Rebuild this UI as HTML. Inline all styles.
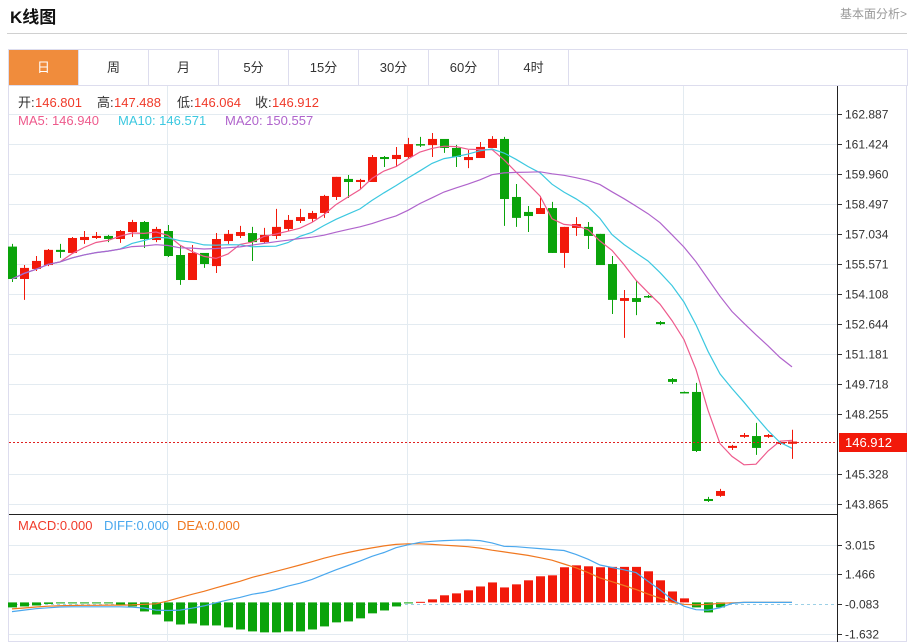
<!DOCTYPE html>
<html><head><meta charset="utf-8">
<style>
html,body{margin:0;padding:0;background:#fff;}
body{width:912px;height:642px;overflow:hidden;position:relative;font-family:"Liberation Sans","Noto Sans CJK SC",sans-serif;}
.title{position:absolute;left:10px;top:3px;font-size:17px;font-weight:bold;color:#111;}
.more{position:absolute;left:840px;top:5px;font-size:12px;color:#999;}
.hline{position:absolute;left:7px;top:33px;width:900px;height:1px;background:#d0d0d0;}
.tabs{position:absolute;left:8px;top:49px;width:898px;height:35px;border:1px solid #dde;border-bottom:1px solid #dde;}
.tab{position:absolute;top:0;width:69px;height:35px;line-height:35px;text-align:center;font-size:13px;color:#333;border-right:1px solid #dde;}
.tab.on{background:#f08c3c;color:#fff;}
svg{position:absolute;left:0;top:0;}
</style></head><body>
<div class="title">K线图</div>
<div class="more">基本面分析&gt;</div>
<div class="hline"></div>
<div class="tabs">
<div class="tab on" style="left:0">日</div>
<div class="tab" style="left:70px">周</div>
<div class="tab" style="left:140px">月</div>
<div class="tab" style="left:210px">5分</div>
<div class="tab" style="left:280px">15分</div>
<div class="tab" style="left:350px">30分</div>
<div class="tab" style="left:420px">60分</div>
<div class="tab" style="left:490px">4时</div>
</div>
<svg id="chart" width="912" height="642"></svg>
<script>
const opens=[156.42,154.84,155.33,155.52,156.26,156.11,156.74,156.84,156.94,156.79,157.13,157.62,156.74,157.18,156.01,154.79,156.11,155.47,156.69,156.94,157.08,156.64,156.94,157.28,157.67,157.77,158.06,158.84,159.72,159.57,159.57,160.79,160.69,160.79,161.42,161.37,161.67,161.23,160.64,160.74,161.23,161.67,158.84,158.11,158.01,158.30,156.11,157.33,157.38,157.04,155.57,153.77,153.91,154.01,152.74,149.96,149.33,149.33,144.11,144.26,146.60,147.14,147.18,147.14,146.79,146.801];
const closes=[154.84,155.38,155.72,156.26,156.16,156.84,156.89,156.94,156.79,157.18,157.62,156.79,157.28,155.96,154.79,156.11,155.57,156.79,157.04,157.13,156.64,156.99,157.38,157.72,157.86,158.06,158.89,159.82,159.57,159.67,160.79,160.69,160.89,161.42,161.37,161.67,161.23,160.79,160.79,161.28,161.67,158.74,157.82,157.91,158.30,156.11,157.38,157.52,156.94,155.52,153.82,153.91,153.72,153.96,152.64,149.82,149.28,146.45,144.01,144.50,146.70,147.23,146.60,147.23,146.89,146.912];
const highs=[156.55,155.52,155.96,156.30,156.55,156.89,157.18,157.13,156.99,157.23,157.72,157.67,157.38,157.47,156.50,156.50,156.11,157.08,157.23,157.43,157.38,157.33,158.26,157.96,158.26,158.16,158.94,159.82,159.91,159.72,160.89,160.84,161.28,161.72,161.77,161.96,161.67,161.38,161.13,161.52,161.81,161.77,159.47,158.40,158.89,158.60,157.38,157.86,157.62,157.04,155.96,154.30,154.74,154.06,152.79,150.01,149.35,149.77,144.21,144.60,146.75,147.33,147.82,147.28,146.94,147.488];
const lows=[154.69,153.82,155.23,155.47,155.87,156.06,156.55,156.79,156.64,156.60,156.89,156.35,156.64,155.91,154.55,154.79,155.38,155.13,156.55,156.84,155.72,156.60,156.79,157.18,157.57,157.62,157.82,158.69,158.79,159.23,159.57,160.30,160.30,160.74,161.28,160.79,160.99,160.30,160.25,160.74,161.23,157.43,157.38,157.13,158.01,156.11,155.38,156.94,156.30,155.52,153.13,151.97,153.08,153.91,152.59,149.72,149.26,146.40,143.96,144.21,146.50,147.09,146.26,147.09,146.74,146.064];
const macdHist=[-0.26,-0.21,-0.16,-0.08,-0.05,-0.05,-0.04,-0.04,-0.03,-0.16,-0.21,-0.47,-0.63,-0.99,-1.15,-1.10,-1.20,-1.20,-1.30,-1.41,-1.51,-1.56,-1.56,-1.51,-1.51,-1.41,-1.25,-1.04,-0.99,-0.83,-0.57,-0.42,-0.21,-0.02,0.03,0.16,0.37,0.47,0.63,0.83,1.04,0.78,0.94,1.15,1.36,1.41,1.83,1.93,1.88,1.83,1.85,1.85,1.85,1.62,1.15,0.57,0.21,-0.26,-0.52,-0.26,0,0,0,0,0,0];
const difVals=[-0.48,-0.40,-0.33,-0.28,-0.24,-0.23,-0.23,-0.23,-0.23,-0.23,-0.25,-0.29,-0.40,-0.42,-0.40,-0.30,-0.18,-0.02,0.13,0.26,0.42,0.52,0.67,0.85,1.0,1.2,1.45,1.7,1.92,2.15,2.4,2.6,2.85,3.0,3.13,3.18,3.22,3.24,3.25,3.22,3.1,2.92,2.9,2.85,2.8,2.75,2.7,2.5,2.25,1.95,1.82,1.7,1.55,1.1,0.65,0.15,-0.2,-0.38,-0.4,-0.28,-0.05,0,0,0,0,0];
const deaVals=[-0.34,-0.29,-0.24,-0.20,-0.17,-0.16,-0.15,-0.15,-0.14,-0.14,-0.13,-0.10,-0.07,0.08,0.25,0.42,0.58,0.76,0.93,1.1,1.3,1.46,1.62,1.78,1.95,2.12,2.3,2.46,2.6,2.73,2.84,2.94,3.02,3.05,3.05,3.02,2.98,2.94,2.9,2.83,2.72,2.63,2.54,2.45,2.33,2.2,2.0,1.8,1.55,1.27,1.08,0.88,0.67,0.43,0.22,0.0,-0.1,-0.13,-0.1,-0.05,-0.02,0,0,0,0,0];
const priceTicks=["162.887","161.424","159.960","158.497","157.034","155.571","154.108","152.644","151.181","149.718","148.255","146.791","145.328","143.865"];
const macdTicks=["3.015","1.466","-0.083","-1.632"];
const lastPrice=146.912;

const NS="http://www.w3.org/2000/svg";
const svg=document.getElementById('chart');
function mk(tag,attrs,parent){const e=document.createElementNS(NS,tag);for(const k in attrs)e.setAttribute(k,attrs[k]);(parent||svg).appendChild(e);return e;}
const pMax=162.887,pMin=143.865,yTop=114,yBot=504;
function yP(p){return yTop+(pMax-p)*(yBot-yTop)/(pMax-pMin);}
function xI(i){return 12+12*i;}
function yM(v){return 604-(v+0.083)*(29.75/1.549);}

let e;
e=mk('rect',{x:8.5,y:85.5,width:898,height:556,fill:'none',stroke:'#dde'});


priceTicks.forEach((t,k)=>{
  if(k===11)return;
  const v=parseFloat(t);const y=Math.round(yP(v))+0.5;
  let g=mk('line',{x1:9,x2:837,y1:y,y2:y,stroke:'#e3ebf1'});
  
  
  let tk=mk('line',{x1:837,x2:842,y1:y,y2:y,stroke:'#333'});
  
  
  let tx=mk('text',{x:845,y:y+4,'font-size':12,fill:'#333'});tx.textContent=t;
  
  
});
[167,407,683].forEach(x=>{
  let g=mk('line',{x1:x+0.5,x2:x+0.5,y1:86,y2:642,stroke:'#e3ebf1'});
  
  
});
macdTicks.forEach(t=>{
  const y=Math.round(yM(parseFloat(t)))+0.5;
  const zero=t==="-0.083";
  let g=mk('line',{x1:9,x2:837,y1:y,y2:y,stroke:zero?'#9cd0e6':'#e3ebf1','stroke-dasharray':zero?'3,3':'none'});
  
  
  let tk=mk('line',{x1:837,x2:842,y1:y,y2:y,stroke:'#333'});
  
  
  let tx=mk('text',{x:845,y:y+4,'font-size':12,fill:'#333'});tx.textContent=t;
  
  
});
e=mk('line',{x1:837.5,x2:837.5,y1:86,y2:642,stroke:'#222'});


e=mk('line',{x1:9,x2:838,y1:514.5,y2:514.5,stroke:'#222'});



const RED='#f2190a',GREEN='#0aa30a';
opens.forEach((o,i)=>{
  const c=closes[i],x=xI(i),up=c>=o,col=up?RED:GREEN;
  let w=mk('line',{x1:x+0.5,x2:x+0.5,y1:yP(highs[i]),y2:yP(lows[i]),stroke:col});
  
  
  const t=yP(Math.max(o,c)),b=yP(Math.min(o,c));
  let r=mk('rect',{x:x-4,y:t,width:9,height:Math.max(1.5,b-t),fill:col});
  
  
});
function ma(n){return closes.map((_,i)=>{const s=closes.slice(Math.max(0,i-n+1),i+1);return s.reduce((a,b)=>a+b,0)/s.length;});}
[[5,'#ee5a8c','ma5-line'],[10,'#3cc8e0','ma10-line'],[20,'#b064cc','ma20-line']].forEach(([n,col,nm])=>{
  const v=ma(n);
  let p=mk('polyline',{points:v.map((m,i)=>xI(i)+','+yP(m).toFixed(1)).join(' '),fill:'none',stroke:col,'stroke-width':1.2});
  
  
});
const ly=Math.round(yP(lastPrice))+0.5;
e=mk('line',{x1:9,x2:837,y1:ly,y2:ly,stroke:'#e02020','stroke-dasharray':'2,2'});


e=mk('rect',{x:839,y:ly-9.5,width:68,height:19,fill:'#f2190a'});


e=mk('text',{x:845,y:ly+4.5,'font-size':13,fill:'#fff'});e.textContent=lastPrice.toFixed(3);


const y0=yM(0);
macdHist.forEach((h,i)=>{
  if(Math.abs(h)<0.005)return;
  const y=yM(h);const x=xI(i);
  let r=mk('rect',{x:x-4,y:Math.min(y,y0),width:9,height:Math.max(1,Math.abs(y-y0)),fill:h>=0?RED:GREEN});
  
  
});
e=mk('polyline',{points:deaVals.map((v,i)=>xI(i)+','+yM(v).toFixed(1)).join(' '),fill:'none',stroke:'#f07820','stroke-width':1.2});


e=mk('polyline',{points:difVals.map((v,i)=>xI(i)+','+yM(v).toFixed(1)).join(' '),fill:'none',stroke:'#4aa8ee','stroke-width':1.2});


function leg(y,parts,nm){let t=mk('text',{y:y,'font-size':13});
  
  
  parts.forEach(([x,s,c])=>{let sp=mk('tspan',{x:x,fill:c},t);sp.textContent=s;});}
leg(107,[[18,'开:','#333'],[35,'146.801','#f03a2a'],[97,'高:','#333'],[114,'147.488','#f03a2a'],[177,'低:','#333'],[194,'146.064','#f03a2a'],[255,'收:','#333'],[272,'146.912','#f03a2a']],'ohlc-legend');
leg(125,[[18,'MA5: 146.940','#ee5a8c'],[118,'MA10: 146.571','#3cc8e0'],[225,'MA20: 150.557','#b064cc']],'ma-legend');
leg(530,[[18,'MACD:0.000','#f03a2a'],[104,'DIFF:0.000','#4aa8ee'],[177,'DEA:0.000','#f07820']],'macd-legend');
</script>
</body></html>
